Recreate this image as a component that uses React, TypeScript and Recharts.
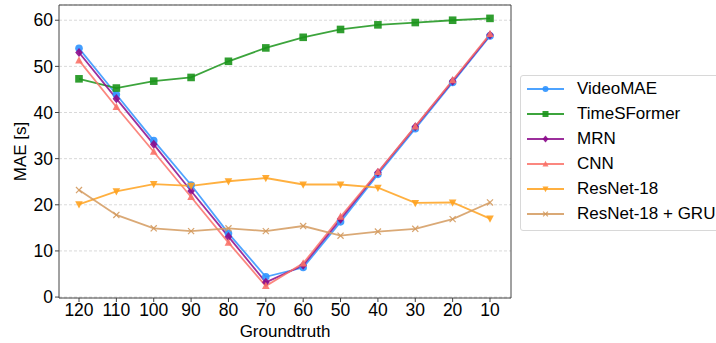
import { LineChart, Line, XAxis, YAxis, CartesianGrid } from "recharts";

const groundtruth = ["120", "110", "100", "90", "80", "70", "60", "50", "40", "30", "20", "10"];
const videoMAE = [53.9, 43.9, 33.9, 24.3, 13.8, 4.4, 6.4, 16.3, 26.6, 36.5, 46.5, 56.6];
const timeSFormer = [47.3, 45.3, 46.8, 47.6, 51.1, 54.0, 56.3, 58.0, 59.0, 59.5, 60.0, 60.4];
const mrn = [53.0, 43.0, 33.1, 23.0, 13.1, 3.2, 6.9, 16.9, 27.0, 36.9, 46.8, 56.8];
const cnn = [51.3, 41.2, 31.5, 21.7, 11.8, 2.4, 7.3, 17.4, 27.1, 37.0, 47.0, 57.0];
const resnet18 = [20.1, 22.9, 24.5, 24.1, 25.1, 25.8, 24.4, 24.4, 23.7, 20.4, 20.5, 17.0];
const resnet18Gru = [23.2, 17.8, 14.9, 14.3, 14.9, 14.3, 15.4, 13.3, 14.2, 14.8, 16.9, 20.5];
const yTicks = [0, 10, 20, 30, 40, 50, 60];

type Marker = "circle" | "square" | "diamond" | "triUp" | "triDown" | "x";

const series: { key: string; name: string; values: number[]; color: string; marker: Marker }[] = [
  { key: "videomae", name: "VideoMAE", values: videoMAE, color: "#2f93ff", marker: "circle" },
  { key: "timesformer", name: "TimeSFormer", values: timeSFormer, color: "#1a941a", marker: "square" },
  { key: "mrn", name: "MRN", values: mrn, color: "#8b0a8b", marker: "diamond" },
  { key: "cnn", name: "CNN", values: cnn, color: "#fa7268", marker: "triUp" },
  { key: "resnet18", name: "ResNet-18", values: resnet18, color: "#ffa21f", marker: "triDown" },
  { key: "resnet18gru", name: "ResNet-18 + GRU", values: resnet18Gru, color: "#d49a5e", marker: "x" }
];

const data = groundtruth.map((label, i) => {
  const row: Record<string, number | string> = { label };
  series.forEach((s) => {
    row[s.key] = s.values[i];
  });
  return row;
});

const FONT = "'Liberation Sans', Arial, sans-serif";

function markerShape(marker: Marker, cx: number, cy: number, color: string, r = 3.8) {
  switch (marker) {
    case "circle":
      return <circle cx={cx} cy={cy} r={r} fill={color} />;
    case "square":
      return <rect x={cx - r} y={cy - r} width={r * 2} height={r * 2} fill={color} />;
    case "diamond":
      return <polygon points={`${cx},${cy - r * 1.2} ${cx + r},${cy} ${cx},${cy + r * 1.2} ${cx - r},${cy}`} fill={color} />;
    case "triUp":
      return <polygon points={`${cx},${cy - r * 1.1} ${cx + r},${cy + r * 0.8} ${cx - r},${cy + r * 0.8}`} fill={color} />;
    case "triDown":
      return <polygon points={`${cx},${cy + r * 1.1} ${cx + r},${cy - r * 0.8} ${cx - r},${cy - r * 0.8}`} fill={color} />;
    case "x":
      return (
        <g stroke={color} strokeWidth={1.2}>
          <line x1={cx - r * 0.8} y1={cy - r * 0.8} x2={cx + r * 0.8} y2={cy + r * 0.8} />
          <line x1={cx - r * 0.8} y1={cy + r * 0.8} x2={cx + r * 0.8} y2={cy - r * 0.8} />
        </g>
      );
  }
}

function makeDot(marker: Marker, color: string) {
  return (props: any) => {
    const { cx, cy, index } = props;
    if (cx == null || cy == null) return <g key={index} />;
    return (
      <g key={index} opacity={0.9}>
        {markerShape(marker, cx, cy, color)}
      </g>
    );
  };
}

function ChartLegend() {
  return (
    <div
      style={{
        position: "absolute",
        left: 520,
        top: 75,
        border: "1px solid #d8d8d8",
        borderRadius: 3,
        background: "#fff",
        padding: "1px 12px 4px 6px",
        fontFamily: FONT,
        fontSize: 17,
        color: "#000",
        width: 220,
        boxSizing: "border-box"
      }}
    >
      {series.map((s) => (
        <div key={s.key} style={{ display: "flex", alignItems: "center", height: 24.9 }}>
          <svg width={40} height={12} style={{ marginRight: 10 }}>
            <line x1={0} y1={6} x2={37} y2={6} stroke={s.color} strokeWidth={1.8} strokeOpacity={0.85} />
            <g opacity={0.9}>{markerShape(s.marker, 18.5, 6, s.color, 3)}</g>
          </svg>
          <span style={{ whiteSpace: "nowrap" }}>{s.name}</span>
        </div>
      ))}
    </div>
  );
}

export default function App() {
  return (
    <div style={{ position: "absolute", left: 0, top: 0, width: 716, height: 343, background: "#fff", overflow: "hidden" }}>
      <LineChart width={716} height={343} data={data} margin={{ top: 4, right: 204, bottom: 0, left: 0 }}>
        <CartesianGrid vertical={false} stroke="#cfcfcf" strokeDasharray="3 2" strokeWidth={0.8} />
        <XAxis
          dataKey="label"
          interval={0}
          padding={{ left: 20, right: 21 }}
          stroke="#444"
          tickLine={{ stroke: "#444" }}
          tickSize={4}
          height={45}
          tick={{ fill: "#000", fontSize: 17.5, fontFamily: FONT }}
          label={{ value: "Groundtruth", position: "insideBottom", offset: 6, fill: "#000", fontSize: 17, fontFamily: FONT }}
        />
        <XAxis xAxisId="top" orientation="top" dataKey="label" height={1} tick={false} tickLine={false} stroke="#444" />
        <YAxis
          domain={[-0.2, 63.3]}
          ticks={yTicks}
          allowDataOverflow
          width={59}
          stroke="#444"
          tickSize={4}
          tick={{ fill: "#000", fontSize: 17.5, fontFamily: FONT }}
          label={{ value: "MAE [s]", angle: -90, position: "insideLeft", offset: 20, style: { textAnchor: "middle" }, fill: "#000", fontSize: 17, fontFamily: FONT }}
        />
        <YAxis yAxisId="right" orientation="right" width={1} tick={false} tickLine={false} stroke="#444" />
        {series.map((s) => (
          <Line
            key={s.key}
            dataKey={s.key}
            name={s.name}
            type="linear"
            stroke={s.color}
            strokeWidth={1.8}
            strokeOpacity={0.85}
            dot={makeDot(s.marker, s.color)}
            activeDot={false}
            isAnimationActive={false}
          />
        ))}
      </LineChart>
      <ChartLegend />
    </div>
  );
}
